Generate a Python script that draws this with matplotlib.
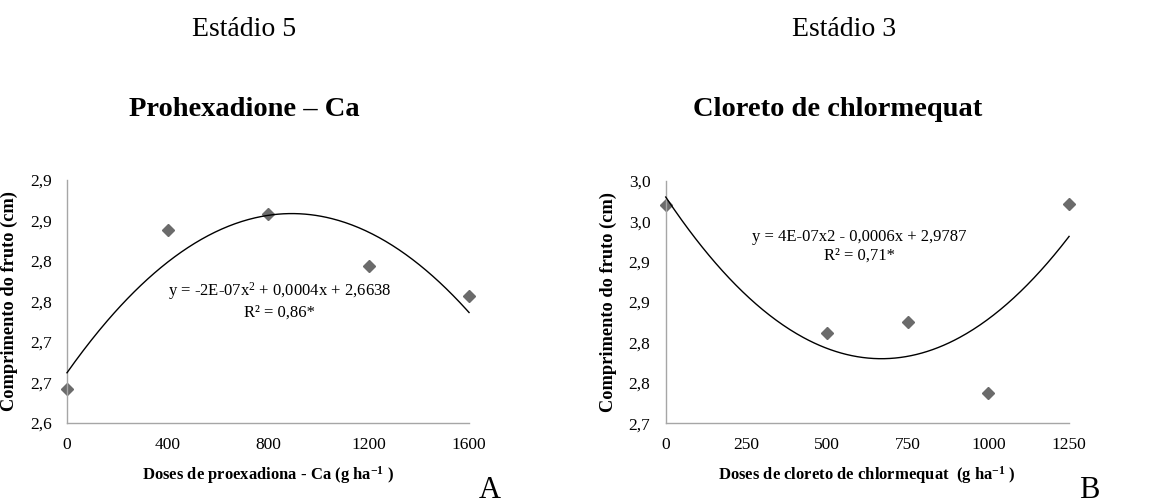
"""
Fruit length vs. growth regulator dose, with quadratic trendlines.
"""

import numpy as np
import matplotlib
matplotlib.use('Agg')
import matplotlib.pyplot as plt
from matplotlib.ticker import FuncFormatter, MultipleLocator

# Prohexadione-Ca, stage 5
doses_phc = [0, 400, 800, 1200, 1600]
length_phc = [2.642, 2.838, 2.858, 2.794, 2.757]

# Chlormequat chloride, stage 3
doses_ccc = [0, 500, 750, 1000, 1250]
length_ccc = [2.970, 2.812, 2.825, 2.737, 2.972]

plt.rcParams['font.family'] = ['Liberation Serif', 'DejaVu Serif']
plt.rcParams['mathtext.fontset'] = 'custom'
plt.rcParams['mathtext.rm'] = 'Liberation Serif'
plt.rcParams['mathtext.it'] = 'Liberation Serif:italic'
plt.rcParams['mathtext.bf'] = 'Liberation Serif:bold'

GRAY_SPINE = '#a6a6a6'
GRAY_MARK = '#6b6b6b'


def comma_fmt(v, pos):
    # one decimal, half rounded up, decimal comma
    r = np.floor(v * 10 + 0.5 + 1e-9) / 10
    return f"{r:.1f}".replace('.', ',')


def draw_panel(ax, x, y, ylim, xticks, xlabel, eq, eq_pos):
    x = np.asarray(x, dtype=float)
    y = np.asarray(y, dtype=float)

    # quadratic trendline fitted to the points
    coef = np.polyfit(x, y, 2)
    xs = np.linspace(x.min(), x.max(), 300)
    ax.plot(xs, np.polyval(coef, xs), color='black', lw=1.0, zorder=3,
            clip_on=False)
    ax.plot(x, y, ls='none', marker='D', ms=5.8, color=GRAY_MARK,
            mec=GRAY_MARK, zorder=2, clip_on=False)

    ax.set_xlim(xticks[0], xticks[-1])
    ax.set_ylim(*ylim)
    ax.set_xticks(xticks)
    ax.yaxis.set_major_locator(MultipleLocator(0.05))
    ax.yaxis.set_major_formatter(FuncFormatter(comma_fmt))

    for side in ('top', 'right'):
        ax.spines[side].set_visible(False)
    for side in ('left', 'bottom'):
        ax.spines[side].set_color(GRAY_SPINE)
        ax.spines[side].set_linewidth(1.0)
    ax.tick_params(length=0, labelsize=12.5, pad=10)
    ax.tick_params(axis='y', pad=11)

    ax.set_xlabel(xlabel, fontsize=12, fontweight='bold', labelpad=8)
    ax.set_ylabel('Comprimento do fruto (cm)', fontsize=13.2,
                  fontweight='bold')
    ax.yaxis.set_label_coords(-0.122, 0.5)

    ax.text(eq_pos[0], eq_pos[1], eq, transform=ax.transAxes,
            ha='center', va='center', fontsize=12, linespacing=1.2)


fig = plt.figure(figsize=(11.57, 5.04), dpi=100)

ax1 = fig.add_axes([0.0579, 0.1607, 0.3475, 0.4821])
draw_panel(ax1, doses_phc, length_phc, (2.6, 2.9),
           [0, 400, 800, 1200, 1600],
           'Doses de proexadiona - Ca (g ha$^{\\mathbf{-1}}$ )',
           'y = -2E-07x$^2$ + 0,0004x + 2,6638\nR² = 0,86*',
           (0.528, 0.505))

ax2 = fig.add_axes([0.5754, 0.1601, 0.3486, 0.4810])
draw_panel(ax2, doses_ccc, length_ccc, (2.7, 3.0),
           [0, 250, 500, 750, 1000, 1250],
           'Doses de cloreto de chlormequat  (g ha$^{\\mathbf{-1}}$ )',
           'y = 4E-07x2 - 0,0006x + 2,9787\nR² = 0,71*',
           (0.48, 0.73))

# stage and product headings
fig.text(244 / 1157, 1 - 29 / 504, 'Estádio 5', ha='center', va='center',
         fontsize=20)
fig.text(244 / 1157, 1 - 110 / 504, 'Prohexadione – Ca', ha='center',
         va='center', fontsize=20.5, fontweight='bold')
fig.text(844 / 1157, 1 - 29 / 504, 'Estádio 3', ha='center', va='center',
         fontsize=20)
fig.text(838 / 1157, 1 - 110 / 504, 'Cloreto de chlormequat', ha='center',
         va='center', fontsize=20.5, fontweight='bold')

# panel letters
fig.text(490 / 1157, 1 - 490 / 504, 'A', ha='center', va='center',
         fontsize=22)
fig.text(1089 / 1157, 1 - 490 / 504, 'B', ha='center', va='center',
         fontsize=22)

fig.savefig('out.png', dpi=100)
plt.close(fig)
